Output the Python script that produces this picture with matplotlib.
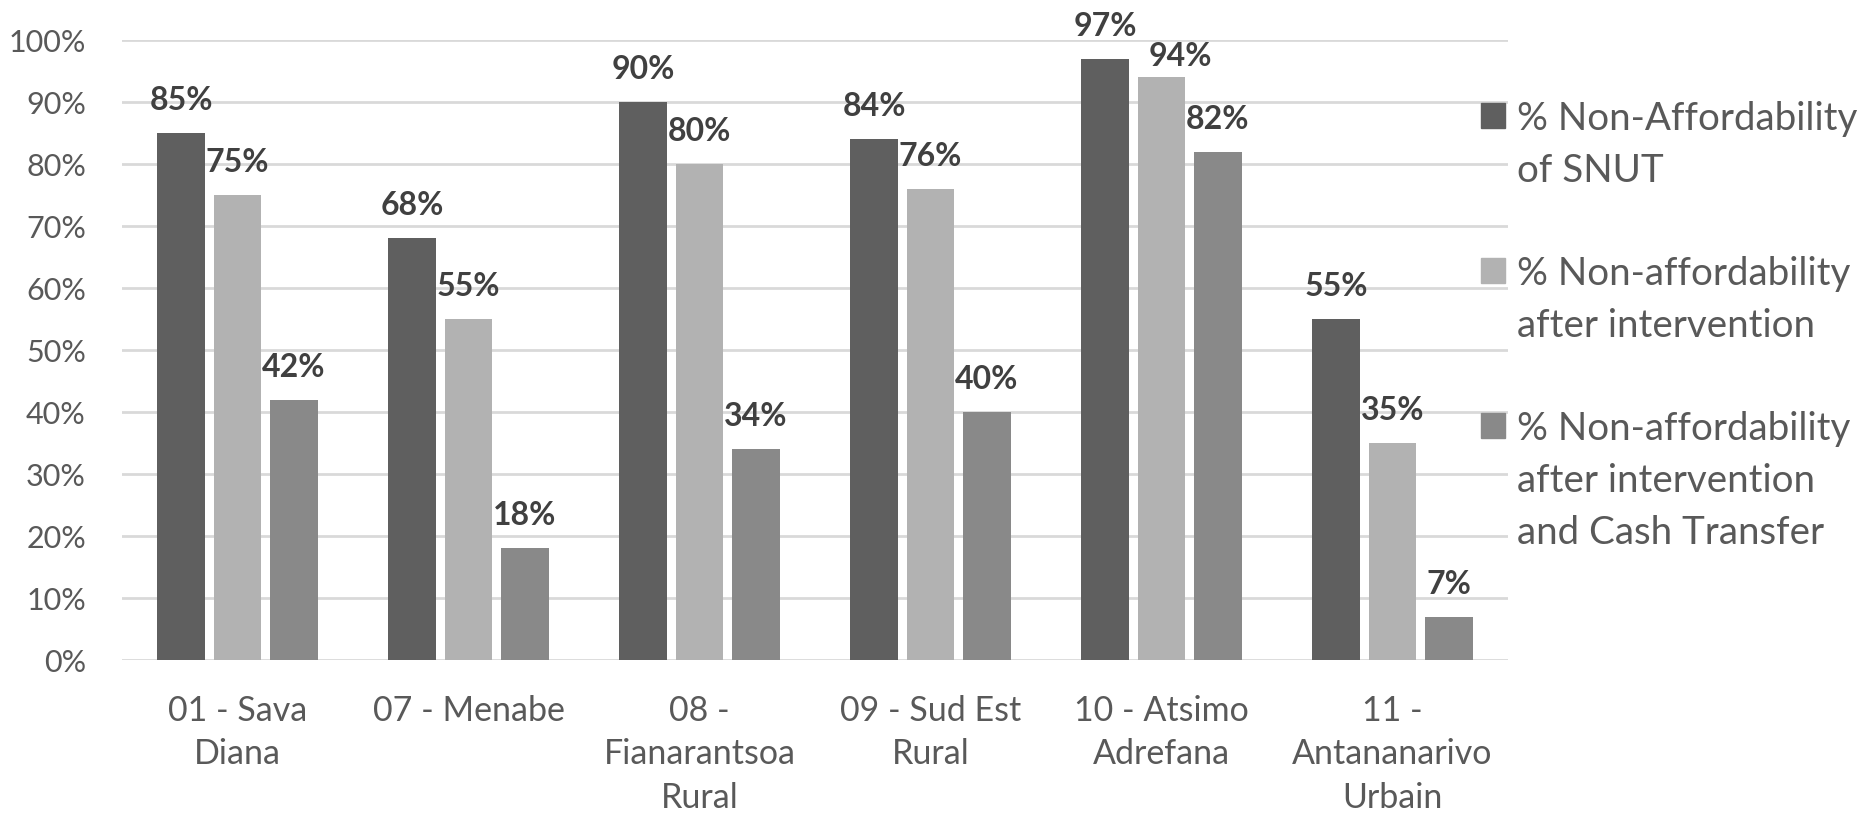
import numpy as np
import matplotlib
matplotlib.use("Agg")
import matplotlib.pyplot as plt
from matplotlib.patches import Rectangle

# Data
regions = ["01 - Sava\nDiana", "07 - Menabe", "08 -\nFianarantsoa\nRural",
           "09 - Sud Est\nRural", "10 - Atsimo\nAdrefana", "11 -\nAntananarivo\nUrbain"]
non_afford_snut = [85, 68, 90, 84, 97, 55]
after_intervention = [75, 55, 80, 76, 94, 35]
after_cash_transfer = [42, 18, 34, 40, 82, 7]
series_labels = ["% Non-Affordability\nof SNUT",
                 "% Non-affordability\nafter intervention",
                 "% Non-affordability\nafter intervention\nand Cash Transfer"]
series_colors = ["#5f5f5f", "#b2b2b2", "#898989"]
yticks = np.arange(0, 101, 10)

plt.rcParams["font.family"] = ["Lato", "DejaVu Sans"]

W, H = 1862, 813
fig = plt.figure(figsize=(W / 100, H / 100), dpi=100)
ax = fig.add_axes([122 / W, (H - 660) / H, (1508 - 122) / W, 620 / H])

x = np.arange(len(regions))
width = 0.207
offset = 0.243
all_series = [non_afford_snut, after_intervention, after_cash_transfer]
for i, (vals, col) in enumerate(zip(all_series, series_colors)):
    bars = ax.bar(x + (i - 1) * offset, vals, width, color=col, zorder=3)
    for k, (b, v) in enumerate(zip(bars, vals)):
        dx, dy = 0, 23
        # the 94% label was nudged aside in the original so it doesn't hit 97%
        if i == 1 and k == 4:
            dx, dy = 19, 11
        ax.annotate(f"{v}%", (b.get_x() + b.get_width() / 2, v),
                    xytext=(dx, dy), textcoords="offset pixels",
                    ha="center", va="baseline", fontsize=23,
                    fontweight="bold", color="#404040")

ax.set_xlim(-0.5, len(regions) - 0.5)
ax.set_ylim(0, 100)
ax.set_yticks(yticks)
ax.set_yticklabels([f"{t}%" for t in yticks])
ax.set_xticks(x)
ax.set_xticklabels(regions, linespacing=1.44)
ax.tick_params(axis="y", length=0, pad=26, labelsize=22, labelcolor="#595959")
ax.tick_params(axis="x", length=0, pad=25, labelsize=24.5, labelcolor="#595959")
ax.grid(axis="y", color="#d9d9d9", linewidth=2, zorder=0)
for s in ax.spines.values():
    s.set_visible(False)

# Legend drawn by hand so the square sits on the first line
first_baselines = [130, 285, 440]
for lab, col, yb in zip(series_labels, series_colors, first_baselines):
    fig.patches.append(Rectangle((1481 / W, (H - yb + 2) / H), 24 / W, 25 / H,
                                 transform=fig.transFigure, color=col))
    for j, line in enumerate(lab.split("\n")):
        fig.text(1517 / W, (H - yb - j * 52) / H, line, fontsize=27.7,
                 color="#595959", ha="left", va="baseline")

fig.savefig("out.png", dpi=100)
